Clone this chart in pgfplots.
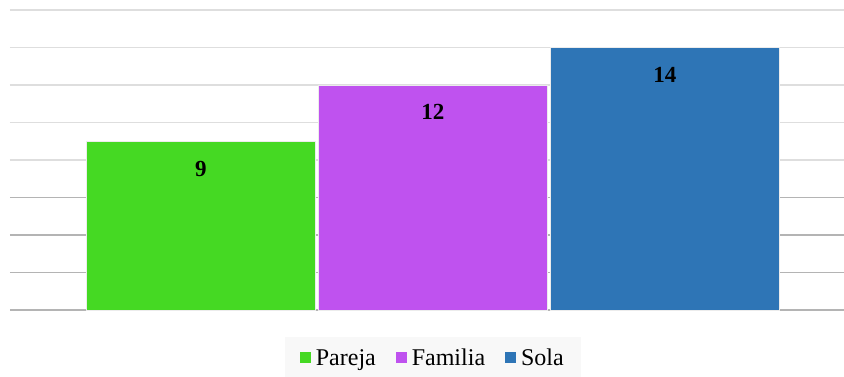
\documentclass[border=0pt]{standalone}
\usepackage{pgfplots}
\pgfplotsset{compat=1.18}
\usepackage{fontspec}
\setmainfont{Liberation Serif}
\definecolor{cgreen}{RGB}{69,217,35}
\definecolor{cpurple}{RGB}{191,82,239}
\definecolor{cblue}{RGB}{46,117,182}
\definecolor{gridlight}{RGB}{222,222,222}
\definecolor{griddark}{RGB}{180,180,180}
\definecolor{legbg}{RGB}{248,248,248}
\begin{document}
\begin{tikzpicture}
\path[use as bounding box] (0,0) rectangle (844pt,376pt);
\begin{axis}[
  at={(10pt,66pt)}, anchor=south west,
  scale only axis, width=834pt, height=300pt,
  xmin=-0.823, xmax=2.772, ymin=0, ymax=16,
  axis line style={draw=none},
  clip=false,
  ybar, bar width=0.99, bar shift=0pt,
  ytick={8,10,12,14,16},
  extra y ticks={0,2,4,6},
  extra y tick style={grid style={griddark, line width=1.5pt}},
  ymajorgrids, grid style={gridlight, line width=1.5pt},
  xtick=\empty, yticklabels={}, extra y tick labels={},
  major tick length=0pt,
  /pgf/number format/assume math mode=true,
  nodes near coords,
  every node near coord/.append style={font=\fontsize{23}{23}\selectfont\bfseries, anchor=north, yshift=-16pt, text=black},
  legend columns=3,
  legend style={at={(axis description cs:0.507,-0.16)}, anchor=center, fill=legbg, draw=none,
    font=\fontsize{24}{24}\selectfont, inner xsep=15pt, inner ysep=10pt,
    /tikz/every odd column/.append style={column sep=3pt},
    /tikz/every even column/.append style={column sep=18pt}},
  legend image code/.code={\fill[#1, draw=none] (0pt,-5pt) rectangle (11pt,6pt);},
]
\addplot[fill=cgreen, draw=white!85!gray, line width=0.8pt] coordinates {(0,9)};
\addplot[fill=cpurple, draw=white!85!gray, line width=0.8pt] coordinates {(1,12)};
\addplot[fill=cblue, draw=white!85!gray, line width=0.8pt] coordinates {(2,14)};
\legend{Pareja, Familia, Sola}
\end{axis}
\end{tikzpicture}
\end{document}
